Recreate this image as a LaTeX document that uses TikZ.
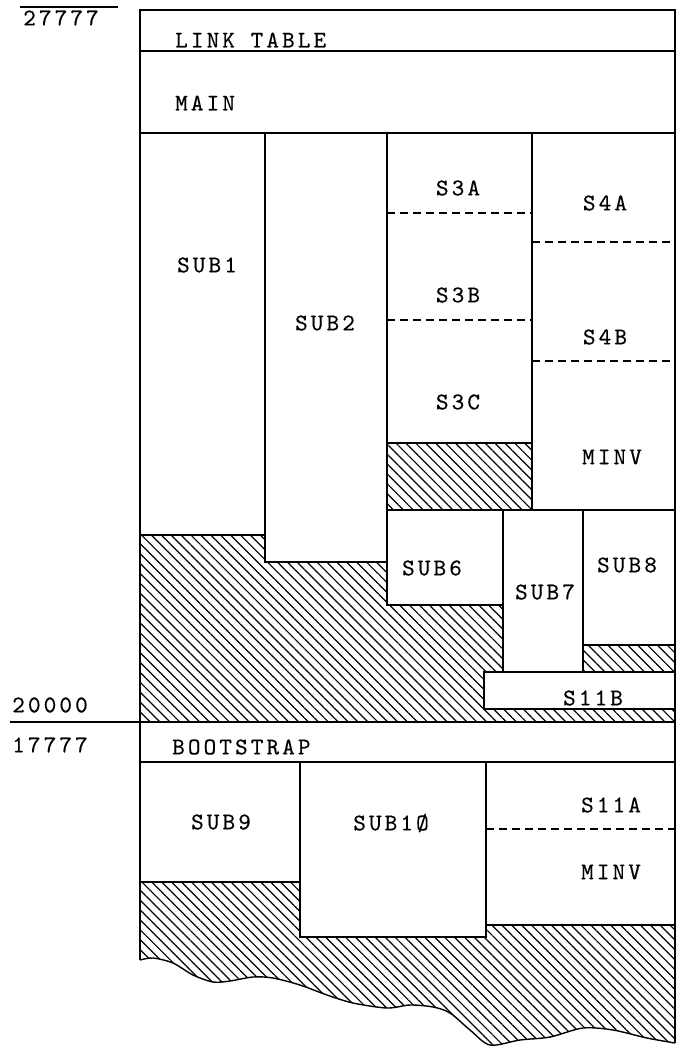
\documentclass[tikz,border=0pt]{standalone}
\usepackage{fontspec}
\usepackage{tikz}
\usetikzlibrary{patterns.meta}
\newfontfamily\typewriter{lmmono10-regular.otf}[LetterSpace=13, FakeBold=0.4]
\tikzset{
  memline/.style={line width=1.4pt, black},
  splitline/.style={line width=1.2pt, dash pattern=on 8pt off 5pt},
  freearea/.style={pattern={Lines[angle=-45, distance=7pt, line width=1.2pt]}},
  memlabel/.style={font=\typewriter\fontsize{24}{28}\selectfont, inner sep=0pt},
}

\begin{document}
\begin{tikzpicture}[x=1pt, y=-1pt]
  \useasboundingbox (0,0) rectangle (677,1047);

  % --- free areas (hatched) ---
  \path[freearea] (387,443) rectangle (532,510);
  \path[freearea] (140,535) -- (265,535) -- (265,562) -- (387,562) -- (387,605)
    -- (503,605) -- (503,672) -- (484,672) -- (484,709) -- (675,709)
    -- (675,722) -- (140,722) -- cycle;
  \path[freearea] (583,645) rectangle (675,672);
  \path[freearea] (140,882) -- (300,882) -- (300,937) -- (486,937) -- (486,925)
    -- (675,925) -- plot[smooth] coordinates {(675,1043) (647,1038) (613,1030)
    (583,1028) (550,1037) (520,1040) (490,1045) (470,1030) (450,1013) (433,1007)
    (410,1005) (387,1008) (353,1003) (327,995) (300,985) (273,978) (253,977)
    (230,981) (213,982) (193,975) (173,963) (153,958) (140,960)} -- cycle;

  % --- outer frame and torn bottom edge ---
  \draw[memline] (140,960) -- (140,10) -- (675,10) -- (675,1043);
  \draw[memline] plot[smooth] coordinates {(675,1043) (647,1038) (613,1030)
    (583,1028) (550,1037) (520,1040) (490,1045) (470,1030) (450,1013) (433,1007)
    (410,1005) (387,1008) (353,1003) (327,995) (300,985) (273,978) (253,977)
    (230,981) (213,982) (193,975) (173,963) (153,958) (140,960)};

  % --- upper region (down to 20000) ---
  \draw[memline] (140,51) -- (675,51);
  \draw[memline] (140,133) -- (675,133);
  \draw[memline] (140,535) -- (265,535);
  \draw[memline] (265,133) -- (265,562) -- (387,562);
  \draw[memline] (387,133) -- (387,605) -- (503,605);
  \draw[memline] (532,133) -- (532,510);
  \draw[memline] (387,443) -- (532,443);
  \draw[memline] (387,510) -- (675,510);
  \draw[memline] (503,510) -- (503,672);
  \draw[memline] (583,510) -- (583,672);
  \draw[memline] (583,645) -- (675,645);
  \draw[memline] (484,672) rectangle (675,709);
  \draw[splitline] (387,213) -- (532,213);
  \draw[splitline] (387,320) -- (532,320);
  \draw[splitline] (532,242) -- (675,242);
  \draw[splitline] (532,361) -- (675,361);

  % --- lower region (from 17777) ---
  \draw[memline] (10,722) -- (675,722);
  \draw[memline] (140,762) -- (675,762);
  \draw[memline] (140,882) -- (300,882);
  \draw[memline] (300,762) -- (300,937) -- (486,937) -- (486,762);
  \draw[memline] (486,925) -- (675,925);
  \draw[splitline] (486,829) -- (675,829);

  % --- addresses ---
  \draw[line width=1.1pt] (20,7) -- (118,7);
  \node[memlabel] (top)  at (61,18)  {27777};
  \node[memlabel] (base) at (50,705) {20000};
  \node[memlabel] (boot) at (50,745) {17777};

  % --- segment names ---
  \node[memlabel, anchor=west] (link) at (175,40)  {LINK TABLE};
  \node[memlabel, anchor=west] (main) at (175,103) {MAIN};
  \node[memlabel, anchor=west] (bstr) at (172,747) {BOOTSTRAP};
  \foreach \name/\x/\y/\txt in {sub1/207/265/SUB1, sub2/325/323/SUB2,
      s3a/458/188/S3A, s3b/458/295/S3B, s3c/458/402/S3C,
      s4a/605/203/S4A, s4b/605/337/S4B, minv/612/457/MINV,
      sub6/432/568/SUB6, sub7/545/592/SUB7, sub8/627/565/SUB8,
      s11b/593/698/S11B, sub9/221/822/SUB9, sub10/391/823/SUB1Ø,
      s11a/611/805/S11A, minvb/611/872/MINV}{
    \node[memlabel] (\name) at (\x,\y) {\txt};
  }
\end{tikzpicture}
\end{document}
